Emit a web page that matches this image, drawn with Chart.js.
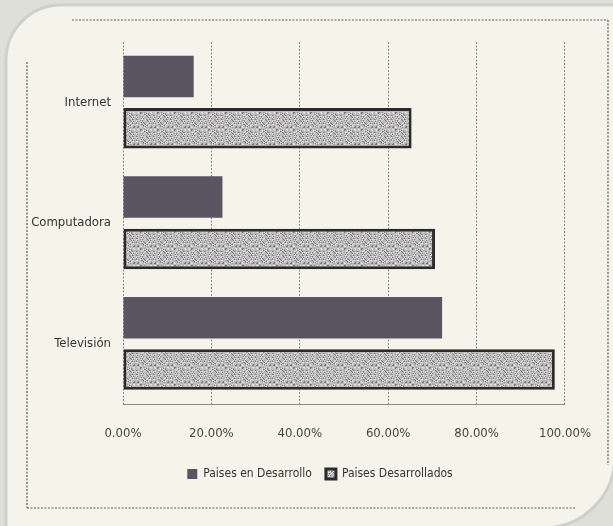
<!DOCTYPE html>
<html>
<head>
<meta charset="utf-8">
<script src="https://cdn.jsdelivr.net/npm/chart.js@4"></script>
<style>
  html, body { margin: 0; padding: 0; background: #e2e2da; }
  #wrap { width: 613px; height: 526px; }
</style>
</head>
<body>
<div id="wrap"><canvas id="chart" width="613" height="526"></canvas></div>
<script>
const categories = ['Internet', 'Computadora', 'Televisión'];
const seriesNames = ['Paises en Desarrollo', 'Paises Desarrollados'];
const developing = [16, 22.5, 72.2];
const developed = [65.3, 70.6, 97.7];
const xTickLabels = ['0.00%', '20.00%', '40.00%', '60.00%', '80.00%', '100.00%'];

const FONT = "'DejaVu Sans Condensed', 'DejaVu Sans', sans-serif";

// grey speckle used for the "developed" bars (fixed hash, no randomness)
function makeStipple() {
    const n = 17;
    const c = document.createElement('canvas');
    c.width = n; c.height = n;
    const g = c.getContext('2d');
    g.fillStyle = '#bcbbbb';
    g.fillRect(0, 0, n, n);
    for (let y = 0; y < n; y++) {
        for (let x = 0; x < n; x++) {
            const h = (x * 7 + y * 11 + x * y * 5) % 13;
            if (h === 0 || h === 5) { g.fillStyle = '#7a787c'; g.fillRect(x, y, 1, 1); }
            else if (h === 3 || h === 9 || h === 11) { g.fillStyle = '#e0dfdc'; g.fillRect(x, y, 1, 1); }
            else if (h === 7) { g.fillStyle = '#9c9a9d'; g.fillRect(x, y, 1, 1); }
        }
    }
    return g.createPattern(c, 'repeat');
}

const pageBackground = {
    id: 'pageBackground',
    afterLayout(chart) {
        // legend sits a bit right of the canvas centre in the original
        chart.legend.left += 35;
        chart.legend.right += 35;
    },
    beforeDraw(chart) {
        const ctx = chart.ctx;
        ctx.save();
        ctx.fillStyle = '#dedfd7';
        ctx.fillRect(0, 0, chart.width, chart.height);
        ctx.beginPath();
        ctx.roundRect(6, 5, 609, 523, [55, 0, 72, 0]);
        ctx.fillStyle = '#f5f4ea';
        ctx.fill();
        ctx.lineWidth = 3;
        ctx.strokeStyle = '#cfd0c9';
        ctx.stroke();

        // dashed frame round the chart
        ctx.strokeStyle = '#5a5a5a';
        ctx.lineWidth = 1.2;
        ctx.setLineDash([2, 1.5]);
        ctx.beginPath();
        ctx.moveTo(72, 20); ctx.lineTo(608, 20);
        ctx.moveTo(608, 20); ctx.lineTo(608, 465);
        ctx.moveTo(27, 62); ctx.lineTo(27, 508);
        ctx.moveTo(27, 508); ctx.lineTo(575, 508);
        ctx.stroke();
        ctx.restore();
    }
};

const ctx = document.getElementById('chart');
new Chart(ctx, {
    type: 'bar',
    data: {
        labels: categories,
        datasets: [{
            label: seriesNames[0],
            data: developing,
            backgroundColor: '#5b5462',
            borderWidth: 0,
            categoryPercentage: 0.86,
            barPercentage: 0.8
        }, {
            label: seriesNames[1],
            data: developed,
            backgroundColor: makeStipple(),
            borderColor: '#2b2a2c',
            borderWidth: 3,
            borderSkipped: false,
            categoryPercentage: 0.86,
            barPercentage: 0.78
        }]
    },
    options: {
        indexAxis: 'y',
        responsive: false,
        animation: false,
        layout: {
            padding: { top: 42, right: 43, bottom: 36, left: 0 }
        },
        plugins: {
            legend: {
                position: 'bottom',
                labels: {
                    font: { size: 12, family: FONT },
                    color: '#333',
                    boxWidth: 10,
                    boxHeight: 10,
                    padding: 14
                }
            },
            tooltip: { enabled: false }
        },
        scales: {
            x: {
                min: 0,
                max: 100,
                ticks: {
                    stepSize: 20,
                    padding: 22,
                    color: '#444',
                    font: { size: 13, family: FONT },
                    callback: (v, i) => xTickLabels[i]
                },
                grid: {
                    color: '#8a8a8a',
                    lineWidth: 1,
                    drawTicks: false
                },
                border: { display: true, color: '#8a8a8a', dash: [2, 1.5] },
                afterFit(scale) { scale.height = 50; }
            },
            y: {
                ticks: {
                    padding: 12,
                    color: '#333',
                    font: { size: 13, family: FONT }
                },
                grid: { display: false, drawTicks: false },
                border: { display: false },
                afterFit(scale) { scale.width = 123; }
            }
        }
    },
    plugins: [pageBackground]
});
</script>
</body>
</html>
